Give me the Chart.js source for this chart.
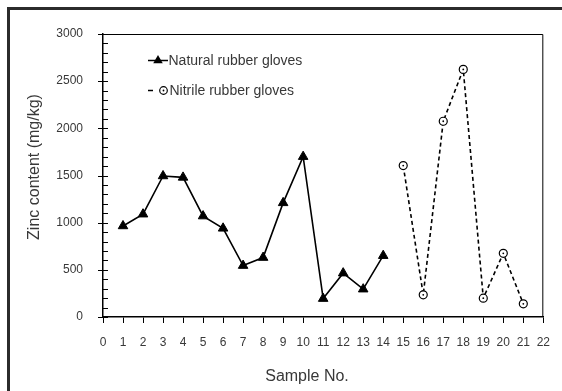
<!DOCTYPE html>
<html lang="en">
<head>
    <meta charset="UTF-8">
    <title>Zinc content in rubber gloves</title>
    <script src="https://cdn.jsdelivr.net/npm/chart.js"></script>
    <style>
        body {
            margin: 0;
            background: #fff;
        }
        #wrap {
            position: relative;
            width: 562px;
            height: 391px;
            overflow: hidden;
        }
        #frame {
            position: absolute;
            left: 7px;
            top: 7px;
            width: 600px;
            height: 400px;
            border-left: 3px solid #2b2b2b;
            border-top: 3px solid #2b2b2b;
        }
        canvas {
            position: absolute;
            left: 0;
            top: 0;
        }
    </style>
</head>
<body>
<div id="wrap">
    <div id="frame"></div>
    <canvas id="zincChart" width="562" height="391"></canvas>
</div>

<script>
    // sample numbers and zinc content (mg/kg)
    const naturalSamples = [1, 2, 3, 4, 5, 6, 7, 8, 9, 10, 11, 12, 13, 14];
    const naturalZinc = [965, 1090, 1495, 1480, 1070, 940, 545, 630, 1210, 1700, 195, 465, 295, 650];
    const nitrileSamples = [15, 16, 17, 18, 19, 20, 21];
    const nitrileZinc = [1605, 235, 2075, 2625, 200, 675, 140];

    const xTicks = { min: 0, max: 22, step: 1 };
    const yTicks = { min: 0, max: 3000, major: 500, minor: 100 };

    const yTitle = 'Zinc content (mg/kg)';
    const xTitle = 'Sample No.';
    const textColor = '#383838';
    const fontFamily = '"Liberation Sans", Arial, sans-serif';

    function toPoints(xs, ys) {
        return xs.map((x, i) => ({ x: x, y: ys[i] }));
    }

    function triangle(ctx, x, y, r) {
        let rad = 0;
        ctx.beginPath();
        ctx.moveTo(x + Math.sin(rad) * r, y - Math.cos(rad) * r);
        rad += 2 * Math.PI / 3;
        ctx.lineTo(x + Math.sin(rad) * r, y - Math.cos(rad) * r);
        rad += 2 * Math.PI / 3;
        ctx.lineTo(x + Math.sin(rad) * r, y - Math.cos(rad) * r);
        ctx.closePath();
        ctx.fill();
    }

    // box, minor ticks, legend and titles
    const extras = {
        id: 'extras',
        afterDraw(chart) {
            const ctx = chart.ctx;
            const a = chart.chartArea;
            const ys = chart.scales.y;
            ctx.save();

            // top and right border of the plot
            ctx.strokeStyle = '#000';
            ctx.lineWidth = 1;
            ctx.beginPath();
            ctx.moveTo(a.left, a.top + 0.5);
            ctx.lineTo(a.right - 0.5, a.top + 0.5);
            ctx.lineTo(a.right - 0.5, a.bottom);
            ctx.stroke();

            // y ticks, pointing inward
            for (let v = yTicks.min; v <= yTicks.max; v += yTicks.minor) {
                const py = Math.round(ys.getPixelForValue(v)) + 0.5;
                const major = v % yTicks.major === 0;
                ctx.beginPath();
                ctx.moveTo(a.left - (major ? 5 : 0), py);
                ctx.lineTo(a.left + 5, py);
                ctx.stroke();
            }

            // centre dots of the open circles
            ctx.fillStyle = '#000';
            chart.getDatasetMeta(1).data.forEach(p => {
                ctx.beginPath();
                ctx.arc(p.x, p.y, 0.9, 0, Math.PI * 2);
                ctx.fill();
            });

            // legend
            const ds = chart.data.datasets;
            ctx.font = '14px ' + fontFamily;
            ctx.textBaseline = 'middle';
            ctx.textAlign = 'left';

            ctx.strokeStyle = '#000';
            ctx.lineWidth = 1.5;
            ctx.beginPath();
            ctx.moveTo(148, 60.5);
            ctx.lineTo(168, 60.5);
            ctx.stroke();
            ctx.fillStyle = '#000';
            triangle(ctx, 158, 60.5, 5.5);
            ctx.fillStyle = textColor;
            ctx.fillText(ds[0].label, 168.5, 61);

            ctx.beginPath();
            ctx.moveTo(148, 90.5);
            ctx.lineTo(153, 90.5);
            ctx.stroke();
            ctx.lineWidth = 1.2;
            ctx.fillStyle = '#fff';
            ctx.beginPath();
            ctx.arc(163.5, 90.5, 3.8, 0, Math.PI * 2);
            ctx.fill();
            ctx.stroke();
            ctx.fillStyle = '#000';
            ctx.beginPath();
            ctx.arc(163.5, 90.5, 0.9, 0, Math.PI * 2);
            ctx.fill();
            ctx.fillStyle = textColor;
            ctx.fillText(ds[1].label, 169.5, 91);

            // axis titles
            ctx.font = '16px ' + fontFamily;
            ctx.textAlign = 'center';
            ctx.fillText(xTitle, 307, 377);
            ctx.translate(35, 167);
            ctx.rotate(-Math.PI / 2);
            ctx.fillText(yTitle, 0, 0);
            ctx.restore();
        }
    };

    function renderChart() {
        const ctx = document.getElementById('zincChart').getContext('2d');
        new Chart(ctx, {
            type: 'line',
            data: {
                datasets: [{
                    label: 'Natural rubber gloves',
                    data: toPoints(naturalSamples, naturalZinc),
                    borderColor: '#000',
                    borderWidth: 1.6,
                    pointStyle: 'triangle',
                    pointRadius: 5.5,
                    pointBackgroundColor: '#000',
                    pointBorderColor: '#000',
                    pointBorderWidth: 1,
                    tension: 0
                }, {
                    label: 'Nitrile rubber gloves',
                    data: toPoints(nitrileSamples, nitrileZinc),
                    borderColor: '#000',
                    borderWidth: 1.6,
                    borderDash: [4, 3],
                    pointStyle: 'circle',
                    pointRadius: 4,
                    pointBackgroundColor: '#fff',
                    pointBorderColor: '#000',
                    pointBorderWidth: 1.2,
                    tension: 0
                }]
            },
            options: {
                responsive: false,
                animation: false,
                devicePixelRatio: 1,
                layout: { padding: { left: 0, top: 34, right: 14, bottom: 0 } },
                plugins: {
                    legend: { display: false },
                    tooltip: { enabled: false }
                },
                scales: {
                    x: {
                        type: 'linear',
                        min: xTicks.min,
                        max: xTicks.max,
                        ticks: {
                            stepSize: xTicks.step,
                            padding: 12,
                            color: textColor,
                            font: { family: fontFamily, size: 12 }
                        },
                        grid: {
                            drawOnChartArea: false,
                            drawTicks: true,
                            tickLength: 6,
                            color: '#000'
                        },
                        border: { color: '#000', width: 1.5 },
                        afterFit: s => { s.height = 74; }
                    },
                    y: {
                        min: yTicks.min,
                        max: yTicks.max,
                        ticks: {
                            stepSize: yTicks.major,
                            padding: 20,
                            color: textColor,
                            font: { family: fontFamily, size: 12 },
                            callback: v => String(v)
                        },
                        grid: {
                            drawOnChartArea: false,
                            drawTicks: false
                        },
                        border: { color: '#000', width: 1.5 },
                        afterFit: s => { s.width = 103; }
                    }
                }
            },
            plugins: [extras]
        });
    }

    renderChart();
</script>
</body>
</html>
